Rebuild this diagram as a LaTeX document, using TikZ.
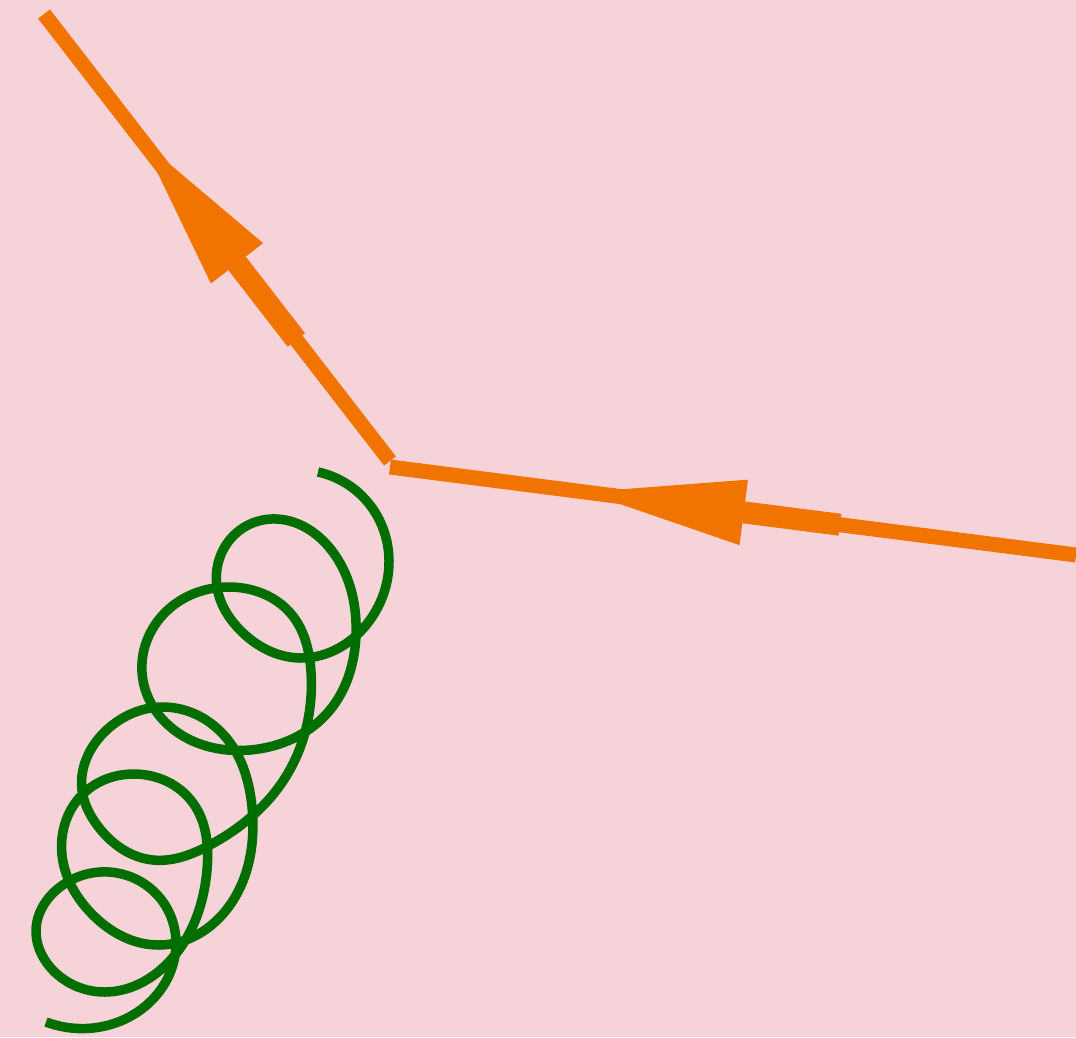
\documentclass[tikz,border=0pt]{standalone}
\usetikzlibrary{calc,hobby}
\definecolor{bgpink}{RGB}{246,211,217}
\definecolor{fermorange}{RGB}{241,116,0}
\definecolor{gluongreen}{RGB}{0,110,0}
\tikzset{
  fermion/.style={draw=fermorange, line width=15pt, line cap=butt},
  shaft/.style={draw=fermorange, line width=22pt, line cap=butt},
  headtri/.style={fill=fermorange, draw=none},
  gluonline/.style={draw=gluongreen, line width=9.5pt, line cap=butt, line join=round}
}
\begin{document}
\begin{tikzpicture}[x=1pt,y=-1pt]
\fill[bgpink] (0,0) rectangle (1076,1037);
\useasboundingbox (0,0) rectangle (1076,1037);
% end points
\coordinate (a) at (44,14);
\coordinate (v1) at (390,461);
\coordinate (v2) at (390,467);
\coordinate (b) at (1076,555);
% fermion lines
\draw[fermion] (a) -- (v1);
\draw[fermion] (b) -- (v2);
% arrow on upper-left line (points toward a)
\coordinate (E1) at ($(v1)!153pt!(a)$);
\coordinate (B1) at ($(v1)!250pt!(a)$);
\coordinate (T1) at ($(v1)!405pt!(a)$);
\draw[shaft] (E1) -- (B1);
\fill[headtri] (T1) -- ($(B1)!33pt!90:(T1)$) -- ($(B1)!33pt!-90:(T1)$) -- cycle;
% arrow on right line (points toward vertex)
\coordinate (E2) at ($(b)!238pt!(v2)$);
\coordinate (B2) at ($(b)!335pt!(v2)$);
\coordinate (T2) at ($(b)!495pt!(v2)$);
\draw[shaft] (E2) -- (B2);
\fill[headtri] (T2) -- ($(B2)!33pt!90:(T2)$) -- ($(B2)!33pt!-90:(T2)$) -- cycle;
% gluon
\coordinate (g0) at (318,472);
\coordinate (g1) at (46,1022);
\draw[gluonline, use Hobby shortcut] (g0) .. (370,505) .. (389,560) .. (370,620) .. (300,658)
 .. (240,630) .. (217,587) .. (240,530) .. (277,519) .. (335,555) .. (356,635)
 .. (330,710) .. (250,750) .. (165,722) .. (142,672) .. (170,608) .. (227,587)
 .. (292,615) .. (311,672) .. (285,778) .. (210,845) .. (153,860) .. (97,825)
 .. (82,790) .. (110,727) .. (163,707) .. (228,740) .. (252,807) .. (230,905)
 .. (160,945) .. (90,912) .. (62,855) .. (85,792) .. (133,774) .. (193,803)
 .. (207,870) .. (175,955) .. (105,992) .. (50,967) .. (36,930) .. (60,887)
 .. (100,872) .. (160,898) .. (176,945) .. (150,1002) .. (100,1027) .. (g1);
\end{tikzpicture}
\end{document}
